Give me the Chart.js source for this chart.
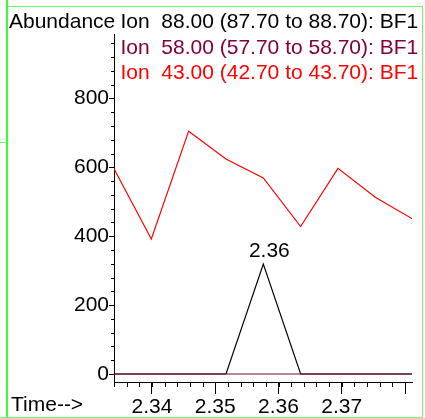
<!DOCTYPE html>
<html>
<head>
<meta charset="utf-8">
<script src="https://cdn.jsdelivr.net/npm/chart.js@4/dist/chart.umd.min.js"></script>
<style>
  html, body { margin: 0; padding: 0; background: #fff; }
  #wrap { width: 425px; height: 418px; }
</style>
</head>
<body>
<div id="wrap"><canvas id="tic" width="425" height="418"></canvas></div>
<script>
// scan times (min)
const scanTimes = [2.3340, 2.3399, 2.3458, 2.3517, 2.3576, 2.3635, 2.3694, 2.3753, 2.3812];

// abundances per ion
const ion88 = [0, 0, 0, 0, 319, 0, 0, 0, 0];
const ion58 = [0, 0, 0, 0, 0, 0, 0, 0, 0];
const ion43 = [596, 392, 705, 624, 569, 428, 597, 513, 450];

const legendLines = [
  'Ion  88.00 (87.70 to 88.70): BF1',
  'Ion  58.00 (57.70 to 58.70): BF1',
  'Ion  43.00 (42.70 to 43.70): BF1',
];

// axis ticks
const xMajorTicks = [2.34, 2.35, 2.36, 2.37, 2.38];
const xTickLabels = ['2.34', '2.35', '2.36', '2.37', ''];
const yMajorTicks = [0, 200, 400, 600, 800];
const xRange = [2.334, 2.3811];
const yRange = [-23.2, 987];

// peak annotation
const peakTime = 2.3576;
const peakValue = 319;
const peakLabel = '2.36';

const FONT = '"Liberation Sans", Arial, sans-serif';
const PURPLE = '#800040';

const series = [
  { label: legendLines[0], data: ion88, color: '#000000', order: 3 },
  { label: legendLines[1], data: ion58, color: PURPLE, order: 2 },
  { label: legendLines[2], data: ion43, color: '#ff0000', order: 1 },
];

// green frame, axis labels, minor ticks, legend text, peak label
const decorations = {
  id: 'decorations',
  beforeDraw(chart) {
    const c = chart.ctx;
    c.save();
    c.fillStyle = '#fff';
    c.fillRect(0, 0, chart.width, chart.height);
    c.strokeStyle = '#66ff66';
    c.lineWidth = 1;
    c.beginPath();
    c.moveTo(7, 6.5); c.lineTo(422.5, 6.5);
    c.moveTo(422.5, 6); c.lineTo(422.5, 417.5);
    c.moveTo(0, 417.5); c.lineTo(423, 417.5);
    c.moveTo(0, 142.5); c.lineTo(7, 142.5);
    c.stroke();
    c.strokeStyle = '#33ff33';
    c.lineWidth = 2;
    c.beginPath();
    c.moveTo(7, 0); c.lineTo(7, 417);
    c.stroke();
    c.restore();
  },
  afterDraw(chart) {
    const c = chart.ctx;
    const xs = chart.scales.x, ys = chart.scales.y;
    const area = chart.chartArea;
    c.save();
    // minor ticks
    c.strokeStyle = '#000';
    c.lineWidth = 1;
    c.beginPath();
    for (let v = 2.334; v < 2.381; v += 0.002) {
      const px = Math.round(xs.getPixelForValue(v)) + 0.5;
      c.moveTo(px, area.bottom); c.lineTo(px, area.bottom + 5);
    }
    for (let v = 0; v <= 960; v += 40) {
      const py = Math.round(ys.getPixelForValue(v)) + 0.5;
      c.moveTo(area.left - 3, py); c.lineTo(area.left, py);
    }
    c.stroke();

    c.font = '21px ' + FONT;
    c.textBaseline = 'alphabetic';
    c.textAlign = 'left';
    c.fillStyle = '#000';
    c.fillText('Abundance', 9, 28);
    c.fillText('Time-->', 11, 410.5);

    series.forEach((s, i) => {
      c.fillStyle = s.color;
      c.fillText(s.label, 120.5, 28 + i * 25.5);
    });

    // retention time above the peak
    c.fillStyle = '#000';
    c.textAlign = 'center';
    c.fillText(peakLabel, xs.getPixelForValue(peakTime) + 6, ys.getPixelForValue(peakValue) - 7);
    c.restore();
  }
};

new Chart(document.getElementById('tic'), {
  type: 'line',
  data: {
    datasets: series.map((s) => ({
      label: s.label,
      data: scanTimes.map((t, i) => ({ x: t, y: s.data[i] })),
      borderColor: s.color,
      borderWidth: 1.2,
      pointRadius: 0,
      tension: 0,
      fill: false,
      order: s.order,
    })),
  },
  options: {
    responsive: false,
    animation: false,
    events: [],
    layout: { padding: { top: 34, right: 13, left: 0, bottom: 0 } },
    plugins: { legend: { display: false }, tooltip: { enabled: false } },
    scales: {
      x: {
        type: 'linear',
        min: xRange[0],
        max: xRange[1],
        afterBuildTicks: (scale) => { scale.ticks = xMajorTicks.map((v) => ({ value: v })); },
        afterFit: (scale) => { scale.height = 36; },
        ticks: {
          autoSkip: false,
          maxRotation: 0,
          padding: 1,
          color: '#000',
          font: { family: FONT, size: 21 },
          callback: (val, idx) => xTickLabels[idx],
        },
        grid: { drawOnChartArea: false, drawTicks: true, tickLength: 12, tickColor: '#000' },
        border: { display: true, color: '#000', width: 1 },
      },
      y: {
        min: yRange[0],
        max: yRange[1],
        afterBuildTicks: (scale) => { scale.ticks = yMajorTicks.map((v) => ({ value: v })); },
        afterFit: (scale) => { scale.width = 114; },
        ticks: {
          padding: 0,
          color: '#000',
          font: { family: FONT, size: 21 },
        },
        grid: { drawOnChartArea: false, drawTicks: true, tickLength: 5, tickColor: '#000' },
        border: { display: true, color: '#000', width: 1 },
      },
    },
  },
  plugins: [decorations],
});
</script>
</body>
</html>
